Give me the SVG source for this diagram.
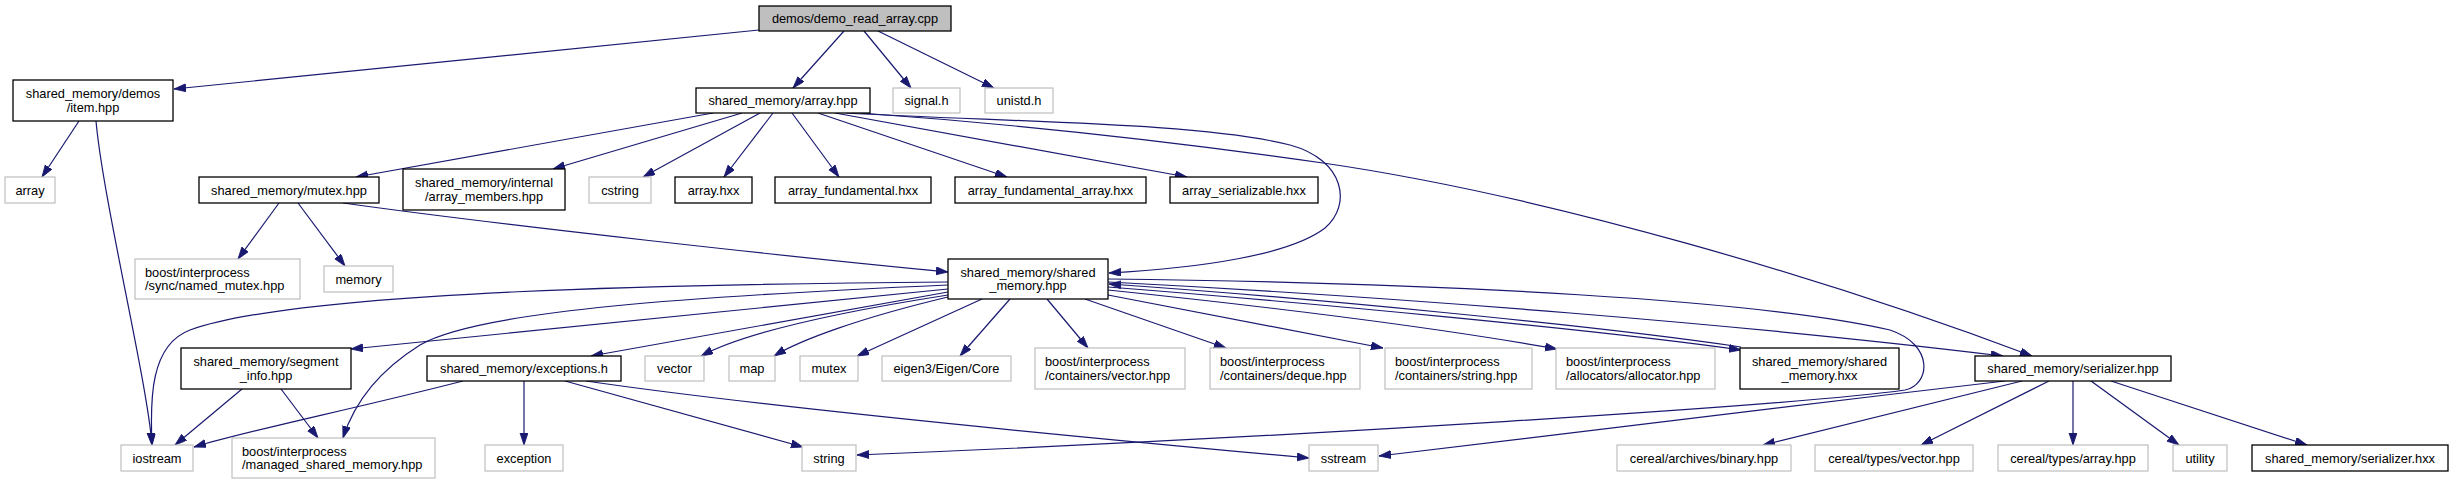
<svg xmlns="http://www.w3.org/2000/svg" width="2453" height="484" viewBox="0 0 2453 484">
<style>
text{font-family:"Liberation Sans",Arial,Helvetica,sans-serif;font-size:12.8px;fill:#000}
.c{text-anchor:middle}
.l{text-anchor:start}
.b{fill:#fff;stroke:#000;stroke-width:1.3}
.g{fill:#fff;stroke:#bfbfbf;stroke-width:1.2}
.r{fill:#bfbfbf;stroke:#000;stroke-width:1.3}
#edges path{fill:none;stroke:#191970;stroke-width:1.2;marker-end:url(#ah)}
</style>
<defs>
<marker id="ah" markerUnits="userSpaceOnUse" markerWidth="14" markerHeight="10" refX="12" refY="4" orient="auto">
<path d="M0,0 L12,4 L0,8 z" fill="#191970" stroke="#191970" stroke-width="0.8"/>
</marker>
</defs>
<rect width="2453" height="484" fill="#fff"/>
<g id="edges">
<path d="M759,30 L174,89"/>
<path d="M844,31 L793,88"/>
<path d="M864,31 L911,88"/>
<path d="M878,31 L994,88"/>
<path d="M79,121 L42,177"/>
<path d="M96,121 C103,200 147,380 152,445"/>
<path d="M713,113 L356,177"/>
<path d="M742,113 L553,169"/>
<path d="M760,113 L643,177"/>
<path d="M773,113 L724,177"/>
<path d="M792,113 L839,177"/>
<path d="M818,113 L1007,177"/>
<path d="M835,113 L1187,177"/>
<path d="M846,113 C1000,122 1200,122 1290,145 C1345,160 1352,205 1325,228 C1290,255 1200,268 1109,273"/>
<path d="M860,113 C1015,124 1170,141 1323,163 C1550,196 1830,280 2032,356"/>
<path d="M279,203 L238,259"/>
<path d="M298,203 L345,266"/>
<path d="M343,203 C500,225 800,258 948,272"/>
<path d="M948,282 C700,284 300,290 190,330 C150,345 150,400 152,445"/>
<path d="M948,285 C700,296 480,310 420,345 C380,370 355,400 343,438"/>
<path d="M948,289 L351,349"/>
<path d="M948,292 L591,356"/>
<path d="M948,295 C820,315 740,335 701,356"/>
<path d="M948,297 C860,318 800,340 774,356"/>
<path d="M982,299 L857,356"/>
<path d="M1010,299 L960,356"/>
<path d="M1047,299 L1088,348"/>
<path d="M1085,299 L1226,348"/>
<path d="M1108,295 L1383,348"/>
<path d="M1108,290 C1300,310 1450,330 1557,349"/>
<path d="M1108,287 C1300,302 1600,330 1741,350"/>
<path d="M1741,347 C1600,326 1300,297 1109,284"/>
<path d="M1108,282 C1400,297 1750,325 2003,356"/>
<path d="M1108,279 C1450,283 1760,300 1890,330 C1935,345 1930,385 1905,390 C1800,405 1300,437 857,455"/>
<path d="M2005,381 C1800,405 1600,428 1379,456"/>
<path d="M2022,381 L1763,445"/>
<path d="M2049,381 L1921,445"/>
<path d="M2073,381 L2073,445"/>
<path d="M2091,381 L2179,445"/>
<path d="M2111,381 L2307,445"/>
<path d="M242,389 L175,445"/>
<path d="M281,389 L318,438"/>
<path d="M463,381 C350,410 250,430 194,447"/>
<path d="M524,381 L524,445"/>
<path d="M565,381 L803,447"/>
<path d="M586,381 C750,405 1000,430 1309,458"/>
</g>
<g id="n_demo"><rect class="r" x="759" y="6" width="192" height="25"/><text class="c" x="855" y="23">demos/demo_read_array.cpp</text></g>
<g id="n_item"><rect class="b" x="13" y="80" width="160" height="41"/><text class="c" x="93" y="98.3">shared_memory/demos</text><text class="c" x="93" y="111.8">/item.hpp</text></g>
<g id="n_array_hpp"><rect class="b" x="696" y="88" width="174" height="25"/><text class="c" x="783" y="105">shared_memory/array.hpp</text></g>
<g id="n_signal"><rect class="g" x="893" y="88" width="67" height="25"/><text class="c" x="926.5" y="105">signal.h</text></g>
<g id="n_unistd"><rect class="g" x="985" y="88" width="68" height="25"/><text class="c" x="1019" y="105">unistd.h</text></g>
<g id="n_array"><rect class="g" x="5" y="177" width="50" height="26"/><text class="c" x="30" y="194.5">array</text></g>
<g id="n_mutex_hpp"><rect class="b" x="199" y="177" width="180" height="26"/><text class="c" x="289" y="194.5">shared_memory/mutex.hpp</text></g>
<g id="n_array_members"><rect class="b" x="403" y="169" width="162" height="41"/><text class="c" x="484" y="187.2">shared_memory/internal</text><text class="c" x="484" y="200.8">/array_members.hpp</text></g>
<g id="n_cstring"><rect class="g" x="589" y="177" width="62" height="26"/><text class="c" x="620" y="194.5">cstring</text></g>
<g id="n_array_hxx"><rect class="b" x="675" y="177" width="77" height="26"/><text class="c" x="713.5" y="194.5">array.hxx</text></g>
<g id="n_array_fund"><rect class="b" x="775" y="177" width="156" height="26"/><text class="c" x="853" y="194.5">array_fundamental.hxx</text></g>
<g id="n_array_fund_arr"><rect class="b" x="955" y="177" width="191" height="26"/><text class="c" x="1050.5" y="194.5">array_fundamental_array.hxx</text></g>
<g id="n_array_ser"><rect class="b" x="1170" y="177" width="148" height="26"/><text class="c" x="1244" y="194.5">array_serializable.hxx</text></g>
<g id="n_named_mutex"><rect class="g" x="135" y="259" width="165" height="40"/><text class="l" x="145" y="276.7">boost/interprocess</text><text class="l" x="145" y="290.3">/sync/named_mutex.hpp</text></g>
<g id="n_memory"><rect class="g" x="324" y="266" width="69" height="26"/><text class="c" x="358.5" y="283.5">memory</text></g>
<g id="n_sm_hpp"><rect class="b" x="948" y="259" width="160" height="40"/><text class="c" x="1028" y="276.7">shared_memory/shared</text><text class="c" x="1028" y="290.3">_memory.hpp</text></g>
<g id="n_segment"><rect class="b" x="181" y="348" width="170" height="41"/><text class="c" x="266" y="366.2">shared_memory/segment</text><text class="c" x="266" y="379.8">_info.hpp</text></g>
<g id="n_exceptions"><rect class="b" x="427" y="356" width="194" height="25"/><text class="c" x="524" y="373">shared_memory/exceptions.h</text></g>
<g id="n_vector"><rect class="g" x="645" y="356" width="59" height="25"/><text class="c" x="674.5" y="373">vector</text></g>
<g id="n_map"><rect class="g" x="729" y="356" width="46" height="25"/><text class="c" x="752" y="373">map</text></g>
<g id="n_mutex"><rect class="g" x="800" y="356" width="58" height="25"/><text class="c" x="829" y="373">mutex</text></g>
<g id="n_eigen"><rect class="g" x="882" y="356" width="129" height="25"/><text class="c" x="946.5" y="373">eigen3/Eigen/Core</text></g>
<g id="n_bi_vector"><rect class="g" x="1035" y="348" width="150" height="41"/><text class="l" x="1045" y="366.2">boost/interprocess</text><text class="l" x="1045" y="379.8">/containers/vector.hpp</text></g>
<g id="n_bi_deque"><rect class="g" x="1210" y="348" width="150" height="41"/><text class="l" x="1220" y="366.2">boost/interprocess</text><text class="l" x="1220" y="379.8">/containers/deque.hpp</text></g>
<g id="n_bi_string"><rect class="g" x="1385" y="348" width="147" height="41"/><text class="l" x="1395" y="366.2">boost/interprocess</text><text class="l" x="1395" y="379.8">/containers/string.hpp</text></g>
<g id="n_bi_alloc"><rect class="g" x="1556" y="348" width="159" height="41"/><text class="l" x="1566" y="366.2">boost/interprocess</text><text class="l" x="1566" y="379.8">/allocators/allocator.hpp</text></g>
<g id="n_sm_hxx"><rect class="b" x="1740" y="348" width="159" height="41"/><text class="c" x="1819.5" y="366.2">shared_memory/shared</text><text class="c" x="1819.5" y="379.8">_memory.hxx</text></g>
<g id="n_serializer"><rect class="b" x="1975" y="356" width="196" height="25"/><text class="c" x="2073" y="373">shared_memory/serializer.hpp</text></g>
<g id="n_iostream"><rect class="g" x="121" y="445" width="72" height="26"/><text class="c" x="157" y="462.5">iostream</text></g>
<g id="n_managed"><rect class="g" x="232" y="438" width="203" height="40"/><text class="l" x="242" y="455.7">boost/interprocess</text><text class="l" x="242" y="469.3">/managed_shared_memory.hpp</text></g>
<g id="n_exception"><rect class="g" x="485" y="445" width="78" height="26"/><text class="c" x="524" y="462.5">exception</text></g>
<g id="n_string"><rect class="g" x="802" y="445" width="54" height="26"/><text class="c" x="829" y="462.5">string</text></g>
<g id="n_sstream"><rect class="g" x="1309" y="445" width="69" height="26"/><text class="c" x="1343.5" y="462.5">sstream</text></g>
<g id="n_binary"><rect class="g" x="1617" y="445" width="174" height="26"/><text class="c" x="1704" y="462.5">cereal/archives/binary.hpp</text></g>
<g id="n_cvector"><rect class="g" x="1815" y="445" width="158" height="26"/><text class="c" x="1894" y="462.5">cereal/types/vector.hpp</text></g>
<g id="n_carray"><rect class="g" x="1998" y="445" width="150" height="26"/><text class="c" x="2073" y="462.5">cereal/types/array.hpp</text></g>
<g id="n_utility"><rect class="g" x="2173" y="445" width="54" height="26"/><text class="c" x="2200" y="462.5">utility</text></g>
<g id="n_ser_hxx"><rect class="b" x="2252" y="445" width="196" height="26"/><text class="c" x="2350" y="462.5">shared_memory/serializer.hxx</text></g>
</svg>
